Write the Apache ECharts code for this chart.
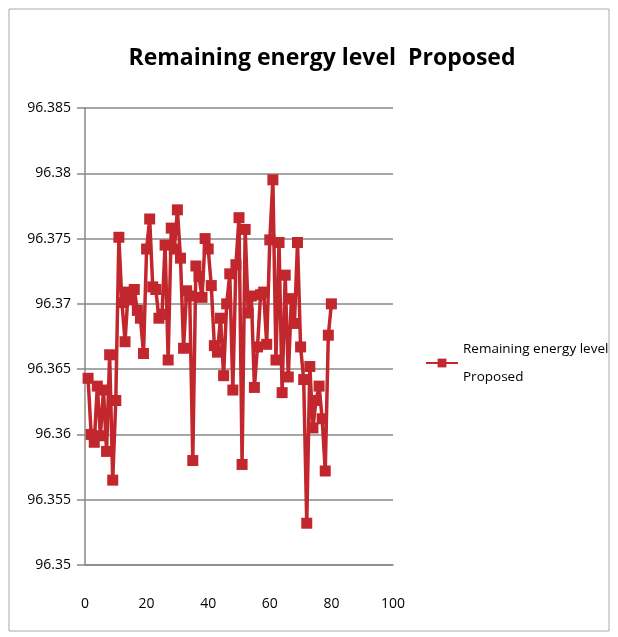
<!DOCTYPE html>
<html><head><meta charset="utf-8">
<script src="https://cdn.jsdelivr.net/npm/echarts@6/dist/echarts.min.js"></script>
<style>html,body{margin:0;padding:0;background:#fff}#c{width:618px;height:637px}</style>
</head><body><div id="c"></div>
<script>
const titleText = "Remaining energy level  Proposed";
const seriesName = "Remaining energy level\nProposed";
const xValues = [1,2,3,4,5,6,7,8,9,10,11,12,13,14,15,16,17,18,19,20,21,22,23,24,25,26,27,28,29,30,31,32,33,34,35,36,37,38,39,40,41,42,43,44,45,46,47,48,49,50,51,52,53,54,55,56,57,58,59,60,61,62,63,64,65,66,67,68,69,70,71,72,73,74,75,76,77,78,79,80];
const energy = [96.3643,96.3600,96.3594,96.3637,96.3599,96.3634,96.3587,96.3661,96.3565,96.3626,
96.3751,96.3701,96.3671,96.3709,96.3703,96.3711,96.3695,96.3689,96.3662,96.3742,
96.3765,96.3713,96.3711,96.3689,96.3692,96.3745,96.3657,96.3758,96.3742,96.3772,
96.3735,96.3666,96.3710,96.3706,96.3580,96.3729,96.3721,96.3705,96.3750,96.3742,
96.3714,96.3668,96.3663,96.3689,96.3645,96.3700,96.3723,96.3634,96.3730,96.3766,
96.3577,96.3757,96.3693,96.3706,96.3636,96.3667,96.3707,96.3709,96.3669,96.3749,
96.3795,96.3657,96.3747,96.3632,96.3722,96.3644,96.3704,96.3685,96.3747,96.3667,
96.3642,96.3532,96.3652,96.3605,96.3626,96.3637,96.3612,96.3572,96.3676,96.3700];
const xTicks = {min:0, max:100, interval:20};
const yTicks = {min:96.35, max:96.385, interval:0.005};

const chart = echarts.init(document.getElementById('c'));
const font = "'Open Sans', sans-serif";
chart.setOption({
  animation:false,
  backgroundColor:'#fff',
  title:{text:titleText,left:317,top:42,textAlign:'center',
    textStyle:{fontFamily:font,fontWeight:'bold',fontSize:23,color:'#000'}},
  legend:{left:420,top:330,itemWidth:32,itemHeight:11,
    textStyle:{fontFamily:font,fontSize:13.5,color:'#000',lineHeight:28},
    data:[seriesName]},
  grid:{left:85,right:225,top:108,bottom:72},
  xAxis:{type:'value',min:xTicks.min,max:xTicks.max,interval:xTicks.interval,
    axisLine:{lineStyle:{color:'#888',width:1.5}},
    axisTick:{show:false},
    splitLine:{show:false},
    axisLabel:{fontFamily:font,fontSize:14,color:'#000',margin:32}},
  yAxis:{type:'value',min:yTicks.min,max:yTicks.max,interval:yTicks.interval,
    axisLine:{show:true,lineStyle:{color:'#888',width:1.5}},
    axisTick:{show:true,length:8,lineStyle:{color:'#888',width:1.5}},
    splitLine:{lineStyle:{color:'#888',width:1.5}},
    axisLabel:{fontFamily:font,fontSize:14,color:'#000',margin:14,
      formatter:v=>String(parseFloat(v.toFixed(3)))}},
  series:[{name:seriesName,type:'line',
    data:xValues.map((x,i)=>[x,energy[i]]),
    symbol:'rect',symbolSize:11,
    lineStyle:{color:'#C1272D',width:3.5},
    itemStyle:{color:'#C1272D'}}],
  graphic:[{type:'rect',shape:{x:9,y:9,width:600,height:622},
    style:{fill:'none',stroke:'#aaa',lineWidth:1},silent:true}]
});
</script></body></html>
